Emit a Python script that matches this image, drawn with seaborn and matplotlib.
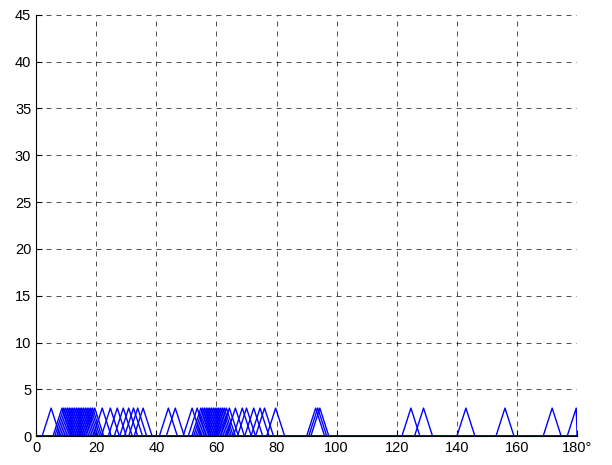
import matplotlib
matplotlib.use("Agg")
import matplotlib.pyplot as plt
import seaborn as sns
import pandas as pd

# peak positions (degrees) of the triangular bumps
peaks = [5.0, 8.6, 9.2, 9.8, 10.4, 11.0, 11.6, 12.2, 12.8, 13.4, 14.0, 14.6,
         15.2, 15.8, 16.4, 17.0, 17.6, 18.2, 18.8, 19.5, 22.0, 24.7, 27.0,
         29.0, 30.8, 32.4, 33.8, 35.6, 44.0, 46.3,
         51.9, 53.6, 54.8, 55.4, 56.0, 56.6, 57.2, 57.8, 58.4, 59.0, 59.6,
         60.2, 60.8, 61.4, 62.0, 62.6, 63.3, 64.3, 66.3, 68.6, 70.0, 72.4,
         74.5, 76.0, 79.7, 93.0, 93.7, 94.4, 124.7, 128.9, 143.0, 156.0,
         171.7, 179.7]
peak_height = 3
half_width = 3

x_ticks = [0, 20, 40, 60, 80, 100, 120, 140, 160, 180]
x_labels = ["0", "20", "40", "60", "80", "100", "120", "140", "160", "180°"]
y_ticks = [0, 5, 10, 15, 20, 25, 30, 35, 40, 45]

rows = []
for i, p in enumerate(peaks):
    xs = [0, max(p - half_width, 0), p, min(p + half_width, 180), 180]
    ys = [0, 0, peak_height, 0, 0]
    for x, y in zip(xs, ys):
        rows.append({"id": i, "x": x, "y": y})
df = pd.DataFrame(rows)

sns.set_style("white")
plt.rcParams["font.family"] = ["Liberation Sans", "DejaVu Sans"]

fig = plt.figure(figsize=(6.12, 4.65), dpi=100)
ax = fig.add_axes([0.059, 0.062, 0.884, 0.906])

sns.lineplot(data=df, x="x", y="y", units="id", estimator=None, sort=False,
             color="#0000ff", linewidth=1.0, ax=ax, legend=False)

ax.set_xlim(0, 180)
ax.set_ylim(0, 45)
ax.set_xticks(x_ticks)
ax.set_xticklabels(x_labels)
ax.set_yticks(y_ticks)
ax.grid(True, linestyle=(0, (6, 6)), color="black", linewidth=0.6, alpha=0.8)
ax.set_axisbelow(True)
ax.set_xlabel("")
ax.set_ylabel("")

for s in ["top", "right"]:
    ax.spines[s].set_visible(False)
for s in ["left", "bottom"]:
    ax.spines[s].set_color("black")
    ax.spines[s].set_linewidth(0.8)
ax.tick_params(direction="in", length=4, labelsize=10.5, colors="black",
               left=True, bottom=True)

fig.savefig("out.png", dpi=100)
